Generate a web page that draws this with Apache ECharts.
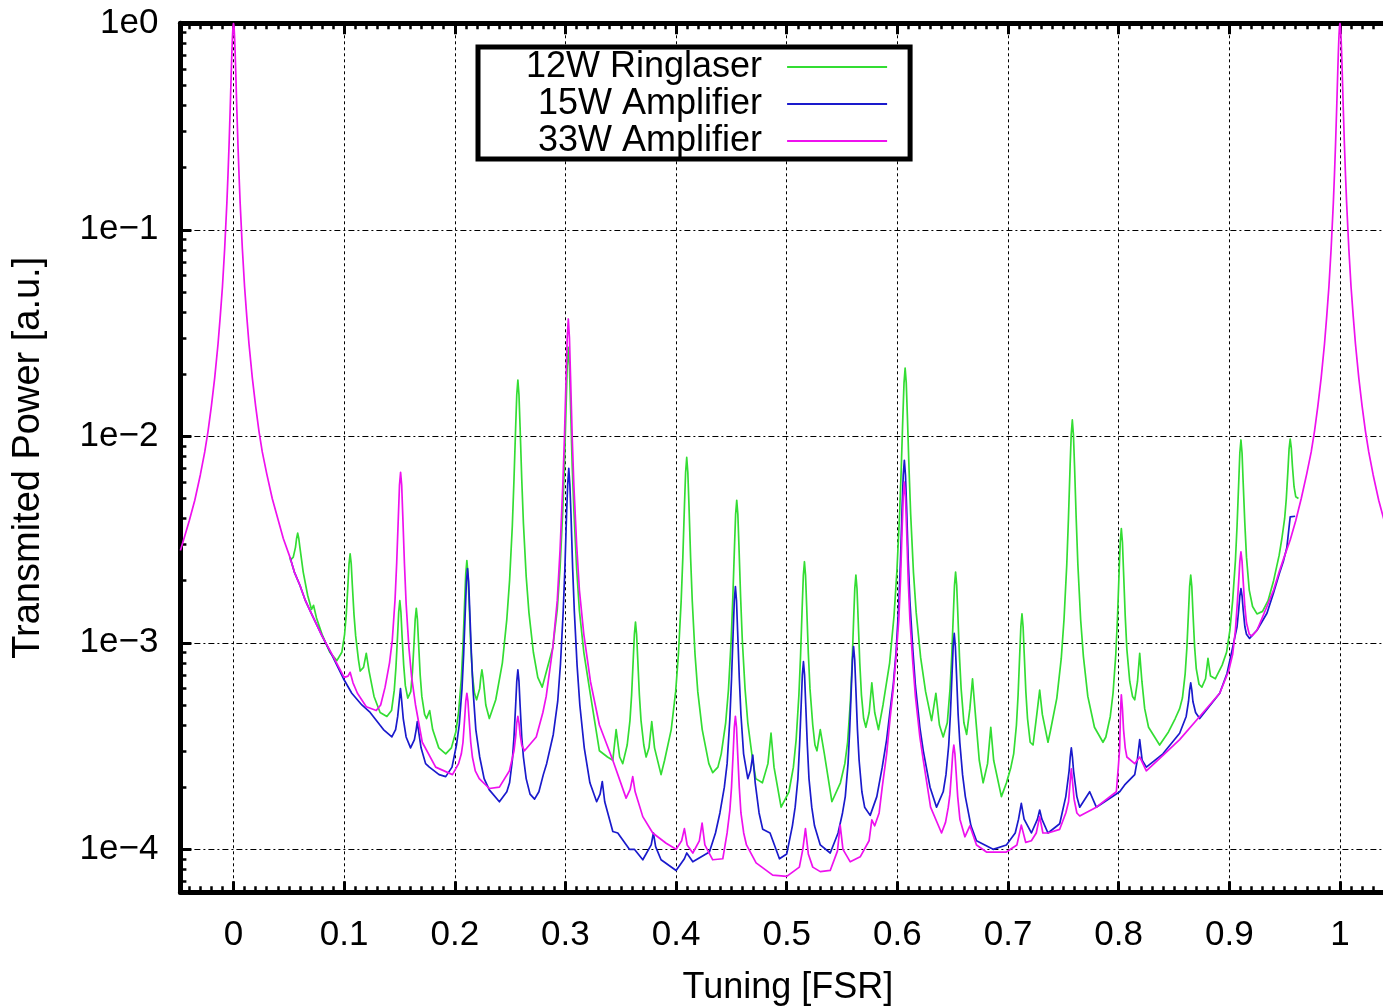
<!DOCTYPE html>
<html>
<head>
<meta charset="utf-8">
<script src="https://cdn.jsdelivr.net/npm/echarts@6/dist/echarts.min.js"></script>
<style>
html,body{margin:0;padding:0;background:#fff;}
#chart{width:1383px;height:1006px;}
</style>
</head>
<body>
<div id="chart"></div>
<script>
// ---------- data ----------
const seriesNames = ['12W Ringlaser', '15W Amplifier', '33W Amplifier'];
const seriesColors = ['#33dd33', '#1a1acc', '#ee11ee'];
const xAxisTitle = 'Tuning [FSR]';
const yAxisTitle = 'Transmited Power [a.u.]';
const xRange = [-0.048, 1.05];
const yRange = [6.2e-5, 1];

// [tuning (FSR), transmitted power (a.u.)]
const ringlaser12W = [
[0.051,2.5e-3],[0.054,2.6e-3],[0.056,2.9e-3],[0.057,3.2e-3],[0.058,3.4e-3],[0.059,3.2e-3],[0.06,2.9e-3],[0.063,2.2e-3],[0.067,1.7e-3],
[0.0705,1.45e-3],[0.0723,1.52e-3],[0.075,1.32e-3],[0.08,1.1e-3],[0.087,9.0e-4],[0.0934,8.2e-4],
[0.0979,9.0e-4],[0.1004,1.1e-3],[0.1019,1.37e-3],[0.1034,1.9e-3],[0.1044,2.41e-3],[0.1054,2.7e-3],[0.1064,2.41e-3],[0.1074,1.9e-3],[0.1089,1.37e-3],[0.1104,1.08e-3],[0.1129,8.3e-4],[0.1145,7.3e-4],
[0.1175,7.6e-4],[0.12,8.9e-4],[0.1225,7.3e-4],[0.127,5.5e-4],[0.1325,4.6e-4],[0.1386,4.4e-4],
[0.1428,4.7e-4],[0.1453,5.9e-4],[0.1468,7.6e-4],[0.1483,1.09e-3],[0.1493,1.41e-3],[0.1503,1.6e-3],[0.1513,1.41e-3],[0.1523,1.09e-3],[0.1538,7.8e-4],[0.1553,6.2e-4],[0.1575,5.4e-4],
[0.1602,5.8e-4],[0.1617,7.2e-4],[0.1632,1.01e-3],[0.1642,1.3e-3],[0.1652,1.47e-3],[0.1662,1.3e-3],[0.1672,1.01e-3],[0.1687,7.0e-4],[0.1702,5.5e-4],[0.1727,4.5e-4],[0.1745,4.3e-4],[0.1773,4.7e-4],[0.18,3.8e-4],[0.1855,3.1e-4],[0.1918,2.9e-4],
[0.1969,3.1e-4],[0.2009,3.7e-4],[0.2034,4.6e-4],[0.2059,6.7e-4],[0.2074,9.7e-4],[0.2089,1.58e-3],[0.2099,2.16e-3],[0.2109,2.5e-3],[0.2119,2.16e-3],[0.2129,1.58e-3],[0.2144,9.8e-4],[0.2159,7.0e-4],[0.2178,5.7e-4],[0.2197,5.3e-4],[0.2225,6.0e-4],[0.2235,6.8e-4],[0.2245,7.4e-4],[0.2255,6.8e-4],[0.228,5.0e-4],[0.2312,4.3e-4],
[0.237,5.3e-4],[0.243,8.0e-4],[0.247,1.3e-3],[0.2495,2.0e-3],[0.252,3.7e-3],[0.2535,6.2e-3],[0.255,1.11e-2],[0.256,1.59e-2],[0.257,1.87e-2],[0.258,1.59e-2],[0.259,1.11e-2],[0.2605,6.2e-3],[0.262,3.8e-3],[0.2645,2.1e-3],[0.267,1.4e-3],[0.271,9.0e-4],[0.275,6.8e-4],[0.279,6.1e-4],
[0.2826,7.2e-4],[0.2886,9.5e-4],[0.2926,1.45e-3],[0.2951,2.3e-3],[0.2976,4.4e-3],[0.2991,7.2e-3],[0.3006,1.42e-2],[0.3016,2.2e-2],[0.3026,2.7e-2],[0.3036,2.2e-2],[0.3046,1.42e-2],[0.3061,7.2e-3],[0.3076,4.4e-3],[0.3101,2.3e-3],[0.3126,1.43e-3],[0.3166,9.0e-4],[0.3226,5.6e-4],[0.3307,3.0e-4],
[0.338,2.8e-4],[0.3428,2.7e-4],[0.3458,3.8e-4],[0.349,2.8e-4],[0.3518,2.6e-4],
[0.3558,3.2e-4],[0.3583,4.2e-4],[0.3598,5.6e-4],[0.3613,8.4e-4],[0.3623,1.1e-3],[0.3633,1.26e-3],[0.3643,1.1e-3],[0.3653,8.4e-4],[0.3668,5.6e-4],[0.3683,4.2e-4],[0.3708,3.2e-4],[0.3729,2.8e-4],[0.3755,3.1e-4],[0.378,4.15e-4],[0.3805,3.1e-4],[0.3864,2.3e-4],
[0.3896,2.7e-4],[0.3956,3.8e-4],[0.3996,5.8e-4],[0.4021,8.8e-4],[0.4046,1.6e-3],[0.4061,2.6e-3],[0.4076,4.7e-3],[0.4086,6.7e-3],[0.4096,7.9e-3],[0.4106,6.7e-3],[0.4116,4.7e-3],[0.4131,2.6e-3],[0.4146,1.6e-3],[0.4171,8.8e-4],[0.4196,5.8e-4],[0.4236,3.8e-4],[0.4296,2.6e-4],[0.4331,2.35e-4],
[0.4378,2.5e-4],[0.4408,2.9e-4],[0.4448,4.1e-4],[0.4473,5.9e-4],[0.4498,1.04e-3],[0.4513,1.67e-3],[0.4528,2.95e-3],[0.4538,4.2e-3],[0.4548,4.9e-3],[0.4558,4.2e-3],[0.4568,2.95e-3],[0.4583,1.67e-3],[0.4598,1.04e-3],[0.4623,6.0e-4],[0.4648,4.1e-4],[0.4688,2.8e-4],[0.472,2.2e-4],[0.478,2.1e-4],[0.483,2.6e-4],[0.4858,3.65e-4],[0.4885,2.5e-4],[0.4949,1.6e-4],
[0.502,1.9e-4],[0.506,2.5e-4],[0.5085,3.4e-4],[0.511,5.6e-4],[0.5125,8.7e-4],[0.514,1.51e-3],[0.515,2.12e-3],[0.516,2.47e-3],[0.517,2.12e-3],[0.518,1.51e-3],[0.5195,8.9e-4],[0.521,6.0e-4],[0.5235,4.0e-4],[0.5255,3.2e-4],[0.5273,3.0e-4],[0.5303,3.8e-4],[0.534,2.9e-4],[0.5408,1.7e-4],
[0.5485,2.1e-4],[0.5525,2.6e-4],[0.555,3.3e-4],[0.5575,5.2e-4],[0.559,7.8e-4],[0.5605,1.32e-3],[0.5615,1.83e-3],[0.5625,2.13e-3],[0.5635,1.83e-3],[0.5645,1.32e-3],[0.566,8.0e-4],[0.5675,5.6e-4],[0.5695,4.3e-4],[0.5715,3.9e-4],[0.5745,4.6e-4],[0.5769,6.4e-4],[0.5795,4.6e-4],[0.5829,3.8e-4],
[0.587,5.0e-4],[0.593,8.0e-4],[0.597,1.36e-3],[0.5995,2.2e-3],[0.602,4.2e-3],[0.6035,7.0e-3],[0.605,1.27e-2],[0.606,1.82e-2],[0.607,2.14e-2],[0.608,1.82e-2],[0.609,1.27e-2],[0.6105,7.0e-3],[0.612,4.2e-3],[0.6145,2.2e-3],[0.617,1.4e-3],[0.621,8.5e-4],[0.6255,5.8e-4],[0.6309,4.2e-4],[0.6348,5.7e-4],[0.638,4.0e-4],[0.6414,3.5e-4],
[0.6451,4.1e-4],[0.6476,6.0e-4],[0.6491,8.6e-4],[0.6506,1.39e-3],[0.6516,1.9e-3],[0.6526,2.2e-3],[0.6536,1.9e-3],[0.6546,1.39e-3],[0.6561,8.6e-4],[0.6576,6.0e-4],[0.6601,4.1e-4],[0.6626,3.6e-4],[0.6655,4.8e-4],[0.6679,6.7e-4],[0.6705,4.5e-4],[0.674,2.7e-4],[0.6775,2.1e-4],[0.6815,2.6e-4],[0.6844,3.9e-4],[0.687,2.7e-4],[0.694,1.8e-4],
[0.6986,2.1e-4],[0.7026,2.5e-4],[0.7051,2.9e-4],[0.7076,4.0e-4],[0.7091,5.6e-4],[0.7106,8.9e-4],[0.7116,1.2e-3],[0.7126,1.38e-3],[0.7136,1.2e-3],[0.7146,8.9e-4],[0.7161,5.8e-4],[0.7176,4.3e-4],[0.72,3.3e-4],[0.7226,3.2e-4],[0.726,4.5e-4],[0.7286,5.9e-4],[0.731,4.5e-4],[0.7361,3.3e-4],
[0.7381,3.7e-4],[0.7441,5.4e-4],[0.7481,8.4e-4],[0.7506,1.3e-3],[0.7531,2.4e-3],[0.7546,4.0e-3],[0.7561,7.2e-3],[0.7571,1.02e-2],[0.7581,1.2e-2],[0.7591,1.02e-2],[0.7601,7.2e-3],[0.7616,4.0e-3],[0.7631,2.4e-3],[0.7656,1.3e-3],[0.7681,8.6e-4],[0.7721,5.5e-4],[0.7781,3.9e-4],[0.7858,3.3e-4],
[0.7884,3.5e-4],[0.7924,4.4e-4],[0.7949,5.7e-4],[0.7974,8.8e-4],[0.7989,1.32e-3],[0.8004,2.21e-3],[0.8014,3.07e-3],[0.8024,3.57e-3],[0.8034,3.07e-3],[0.8044,2.21e-3],[0.8059,1.35e-3],[0.8074,9.3e-4],[0.81,6.5e-4],[0.8125,5.5e-4],[0.8145,5.3e-4],[0.817,6.5e-4],[0.819,8.9e-4],[0.821,6.5e-4],[0.8235,4.8e-4],[0.827,3.9e-4],[0.837,3.2e-4],
[0.845,3.7e-4],[0.8511,4.3e-4],[0.8551,4.8e-4],[0.8576,5.4e-4],[0.8601,7.1e-4],[0.8616,9.4e-4],[0.8631,1.41e-3],[0.8641,1.87e-3],[0.8651,2.13e-3],[0.8661,1.87e-3],[0.8671,1.41e-3],[0.8686,9.6e-4],[0.8701,7.5e-4],[0.8726,6.3e-4],[0.8752,6.1e-4],[0.8785,6.7e-4],[0.8807,8.4e-4],[0.883,6.9e-4],[0.8874,6.7e-4],[0.8935,7.8e-4],
[0.8975,9.0e-4],[0.9005,1.15e-3],[0.903,1.6e-3],[0.9055,2.5e-3],[0.907,3.7e-3],[0.9085,6.0e-3],[0.9095,8.3e-3],[0.9105,9.6e-3],[0.9115,8.3e-3],[0.9125,6.0e-3],[0.914,3.8e-3],[0.9155,2.6e-3],[0.918,1.8e-3],[0.921,1.5e-3],[0.925,1.38e-3],[0.93,1.42e-3],[0.935,1.6e-3],[0.94,2.0e-3],
[0.945,2.65e-3],[0.9475,3.2e-3],[0.95,4.0e-3],[0.9515,5.0e-3],[0.953,6.9e-3],[0.954,8.7e-3],[0.955,9.7e-3],[0.956,8.8e-3],[0.957,7.2e-3],[0.9585,5.7e-3],[0.96,5.1e-3],[0.9625,5.0e-3]
];

const amplifier15W = [
[0.051,2.6e-3],[0.055,2.2e-3],[0.06,1.9e-3],[0.065,1.6e-3],[0.07,1.4e-3],[0.08,1.08e-3],[0.09,8.5e-4],[0.0994,6.7e-4],[0.1069,5.7e-4],
[0.116,5.0e-4],[0.1235,4.6e-4],[0.1355,3.8e-4],[0.1431,3.5e-4],[0.1465,3.8e-4],[0.1484,4.4e-4],[0.1499,5.3e-4],[0.1509,6.0e-4],[0.1519,5.3e-4],[0.1534,4.3e-4],[0.156,3.5e-4],[0.16,3.1e-4],[0.1635,3.4e-4],[0.1651,3.8e-4],[0.1661,4.15e-4],[0.1671,3.8e-4],[0.1695,3.1e-4],[0.1736,2.6e-4],[0.177,2.5e-4],[0.1858,2.3e-4],[0.1918,2.25e-4],
[0.1975,2.5e-4],[0.2015,3.2e-4],[0.204,4.0e-4],[0.2065,6.0e-4],[0.208,8.8e-4],[0.2095,1.44e-3],[0.2105,1.98e-3],[0.2115,2.29e-3],[0.2125,1.98e-3],[0.2135,1.44e-3],[0.215,8.8e-4],[0.2165,5.9e-4],[0.219,3.8e-4],[0.2225,2.8e-4],[0.2265,2.2e-4],[0.2312,1.94e-4],[0.2403,1.7e-4],
[0.247,1.9e-4],[0.2495,2.1e-4],[0.252,2.7e-4],[0.2535,3.5e-4],[0.255,5.0e-4],[0.256,6.5e-4],[0.257,7.4e-4],[0.258,6.5e-4],[0.259,5.0e-4],[0.2605,3.5e-4],[0.262,2.8e-4],[0.2645,2.2e-4],[0.268,1.85e-4],[0.2721,1.75e-4],[0.276,1.9e-4],[0.28,2.3e-4],
[0.283,2.6e-4],[0.289,3.6e-4],[0.293,5.2e-4],[0.2955,7.9e-4],[0.298,1.43e-3],[0.2995,2.3e-3],[0.301,4.2e-3],[0.302,5.8e-3],[0.303,7.0e-3],[0.304,5.8e-3],[0.305,4.2e-3],[0.3065,2.3e-3],[0.308,1.43e-3],[0.3105,7.8e-4],[0.313,5.0e-4],[0.317,3.1e-4],[0.3221,2.1e-4],[0.3282,1.7e-4],
[0.3313,1.85e-4],[0.3333,2.13e-4],[0.3355,1.7e-4],[0.3428,1.22e-4],[0.3473,1.2e-4],[0.3578,1.0e-4],[0.3623,1.0e-4],[0.3699,8.9e-5],[0.3775,1.05e-4],[0.3795,1.2e-4],[0.3815,1.03e-4],[0.3864,8.9e-5],[0.4,7.9e-5],[0.4075,9.0e-5],[0.4096,9.6e-5],[0.4151,8.7e-5],[0.4301,9.7e-5],
[0.4356,1.2e-4],[0.4396,1.5e-4],[0.4436,2.0e-4],[0.4461,2.6e-4],[0.4486,4.3e-4],[0.4501,6.7e-4],[0.4516,1.14e-3],[0.4526,1.6e-3],[0.4536,1.87e-3],[0.4546,1.6e-3],[0.4556,1.14e-3],[0.4571,6.8e-4],[0.4586,4.5e-4],[0.461,2.9e-4],[0.4648,2.2e-4],[0.4672,2.4e-4],[0.4693,2.86e-4],[0.4715,2.1e-4],[0.475,1.5e-4],[0.4783,1.25e-4],[0.4849,1.2e-4],[0.4934,9.0e-5],
[0.5,9.5e-5],[0.5051,1.3e-4],[0.5076,1.6e-4],[0.5101,2.2e-4],[0.5116,3.2e-4],[0.5131,5.1e-4],[0.5141,7.0e-4],[0.5151,8.1e-4],[0.5161,7.0e-4],[0.5171,5.1e-4],[0.5186,3.2e-4],[0.5201,2.2e-4],[0.5226,1.6e-4],[0.5251,1.3e-4],[0.5303,1.05e-4],[0.5393,9.6e-5],
[0.5464,1.2e-4],[0.5504,1.5e-4],[0.5529,1.8e-4],[0.5554,2.6e-4],[0.5569,3.8e-4],[0.5584,6.1e-4],[0.5594,8.3e-4],[0.5604,9.6e-4],[0.5614,8.3e-4],[0.5624,6.1e-4],[0.5639,3.8e-4],[0.5654,2.7e-4],[0.5679,1.9e-4],[0.5704,1.6e-4],[0.5754,1.46e-4],[0.5814,1.8e-4],
[0.5863,2.5e-4],[0.5903,3.4e-4],[0.5934,4.7e-4],[0.5963,6.3e-4],[0.5988,9.0e-4],[0.6013,1.55e-3],[0.6028,2.5e-3],[0.6043,4.6e-3],[0.6053,6.5e-3],[0.6063,7.65e-3],[0.6073,6.5e-3],[0.6083,4.6e-3],[0.6098,2.5e-3],[0.6113,1.6e-3],[0.6138,9.5e-4],[0.6163,6.2e-4],[0.6203,3.9e-4],[0.6234,3.0e-4],[0.6295,2.0e-4],[0.6354,1.6e-4],
[0.6414,1.9e-4],[0.6439,2.3e-4],[0.6464,3.2e-4],[0.6479,4.5e-4],[0.6494,7.1e-4],[0.6504,9.6e-4],[0.6514,1.11e-3],[0.6524,9.6e-4],[0.6534,7.1e-4],[0.6549,4.5e-4],[0.6564,3.3e-4],[0.6589,2.3e-4],[0.6614,1.8e-4],[0.6665,1.3e-4],[0.6715,1.1e-4],
[0.6865,1.0e-4],[0.6985,1.05e-4],[0.7065,1.2e-4],[0.7095,1.4e-4],[0.7112,1.58e-4],[0.712,1.67e-4],[0.7128,1.58e-4],[0.7145,1.4e-4],[0.7211,1.2e-4],[0.7266,1.4e-4],[0.7286,1.55e-4],[0.7306,1.4e-4],[0.7361,1.2e-4],[0.7467,1.33e-4],[0.7522,1.8e-4],[0.7552,2.4e-4],[0.7562,2.8e-4],[0.7572,3.1e-4],[0.7582,2.8e-4],[0.7592,2.4e-4],[0.7622,1.8e-4],[0.7648,1.6e-4],[0.7738,1.9e-4],[0.7798,1.6e-4],[0.8009,1.9e-4],
[0.8054,2.05e-4],[0.8145,2.3e-4],[0.8168,2.7e-4],[0.819,3.4e-4],[0.8212,2.7e-4],[0.825,2.5e-4],[0.84,2.9e-4],[0.8551,3.65e-4],[0.861,4.4e-4],[0.8631,5.2e-4],[0.8641,5.9e-4],[0.8651,6.4e-4],[0.8661,5.9e-4],[0.8671,5.2e-4],[0.8695,4.6e-4],[0.8732,4.3e-4],[0.8913,5.7e-4],[0.8979,7.1e-4],
[0.9039,1.0e-3],[0.907,1.2e-3],[0.9085,1.45e-3],[0.9095,1.69e-3],[0.9105,1.83e-3],[0.9115,1.69e-3],[0.9125,1.45e-3],[0.914,1.2e-3],[0.9155,1.1e-3],[0.9183,1.05e-3],[0.925,1.15e-3],[0.934,1.39e-3],[0.94,1.75e-3],[0.945,2.15e-3],[0.949,2.5e-3],[0.952,2.9e-3],[0.955,4.07e-3],[0.9595,4.1e-3]
];

const amplifier33W = [
[-0.048,2.8e-3],[-0.044,3.3e-3],[-0.04,3.9e-3],[-0.035,4.9e-3],[-0.03,6.5e-3],[-0.026,8.4e-3],[-0.023,1.06e-2],[-0.02,1.4e-2],[-0.017,1.92e-2],[-0.014,2.8e-2],[-0.012,3.8e-2],[-0.01,5.3e-2],[-0.008,8.1e-2],[-0.006,0.135],[-0.005,0.184],[-0.004,0.26],[-0.003,0.385],[-0.002,0.585],[-0.0015,0.714],[-0.001,0.849],[-0.0005,0.957],[0,1.0],
[0.0005,0.957],[0.001,0.849],[0.0015,0.714],[0.002,0.585],[0.003,0.385],[0.004,0.26],[0.005,0.184],[0.006,0.135],[0.008,8.1e-2],[0.01,5.3e-2],[0.012,3.8e-2],[0.014,2.8e-2],[0.017,1.92e-2],[0.02,1.4e-2],[0.023,1.06e-2],[0.026,8.4e-3],[0.03,6.6e-3],[0.035,5.0e-3],[0.04,4.0e-3],[0.045,3.2e-3],[0.051,2.6e-3],
[0.055,2.2e-3],[0.06,1.9e-3],[0.065,1.6e-3],[0.07,1.4e-3],[0.08,1.08e-3],[0.09,8.6e-4],[0.1,6.8e-4],[0.1035,6.9e-4],[0.1054,7.2e-4],[0.108,6.4e-4],[0.112,5.7e-4],[0.12,4.9e-4],[0.129,4.7e-4],
[0.133,5.0e-4],[0.137,6.1e-4],[0.141,8.0e-4],[0.1435,1.03e-3],[0.146,1.62e-3],[0.1475,2.45e-3],[0.149,4.1e-3],[0.15,5.8e-3],[0.151,6.7e-3],[0.152,5.8e-3],[0.153,4.1e-3],[0.1545,2.4e-3],[0.156,1.55e-3],[0.1585,9.5e-4],[0.161,6.8e-4],[0.1645,5.0e-4],[0.1706,3.3e-4],[0.1827,2.5e-4],[0.1979,2.3e-4],
[0.2034,2.6e-4],[0.2059,2.9e-4],[0.2074,3.3e-4],[0.2089,4.3e-4],[0.2099,5.2e-4],[0.2109,5.7e-4],[0.2119,5.2e-4],[0.2129,4.3e-4],[0.2144,3.3e-4],[0.2159,2.8e-4],[0.2185,2.4e-4],[0.2221,2.2e-4],[0.2312,1.97e-4],[0.2403,2.0e-4],[0.2494,2.4e-4],
[0.2535,3.0e-4],[0.255,3.5e-4],[0.256,4.1e-4],[0.257,4.4e-4],[0.258,4.1e-4],[0.259,3.6e-4],[0.2605,3.2e-4],[0.263,3.0e-4],[0.2736,3.5e-4],[0.2796,4.6e-4],[0.2826,5.5e-4],
[0.2886,9.5e-4],[0.2926,1.6e-3],[0.2951,2.8e-3],[0.2976,5.8e-3],[0.2991,9.9e-3],[0.3006,1.95e-2],[0.3016,3.0e-2],[0.3026,3.7e-2],[0.3036,3.0e-2],[0.3046,1.95e-2],[0.3061,9.9e-3],[0.3076,5.8e-3],[0.3101,3.0e-3],[0.3126,1.8e-3],[0.3166,1.1e-3],[0.3226,6.5e-4],[0.3307,4.0e-4],[0.3428,2.7e-4],
[0.3548,1.77e-4],[0.3585,1.95e-4],[0.3608,2.25e-4],[0.363,1.9e-4],[0.3699,1.44e-4],[0.3789,1.2e-4],[0.391,1.07e-4],[0.4,1.0e-4],[0.405,1.1e-4],[0.4075,1.26e-4],[0.41,1.05e-4],[0.4151,9.6e-5],[0.421,1.1e-4],[0.4235,1.34e-4],[0.426,1.05e-4],[0.4331,8.9e-5],[0.4422,9.0e-5],
[0.4461,1.2e-4],[0.4486,1.55e-4],[0.4501,2.0e-4],[0.4516,2.95e-4],[0.4526,3.9e-4],[0.4536,4.4e-4],[0.4546,3.9e-4],[0.4556,2.95e-4],[0.4571,2.0e-4],[0.4586,1.5e-4],[0.4611,1.2e-4],[0.4636,1.05e-4],[0.4723,8.6e-5],[0.4873,7.5e-5],[0.5,7.4e-5],
[0.5114,8.2e-5],[0.5145,1.0e-4],[0.5169,1.26e-4],[0.5195,9.5e-5],[0.5235,8.2e-5],[0.5303,7.8e-5],[0.5393,7.9e-5],[0.5458,9.8e-5],[0.5483,1.31e-4],[0.5508,1.0e-4],[0.5574,8.7e-5],[0.5664,9.2e-5],[0.5744,1.1e-4],[0.5769,1.39e-4],[0.5795,1.3e-4],[0.5835,1.5e-4],
[0.5863,2.0e-4],[0.5903,2.9e-4],[0.5934,4.3e-4],[0.5963,6.0e-4],[0.5988,8.5e-4],[0.6013,1.3e-3],[0.6028,2.0e-3],[0.6043,3.6e-3],[0.6053,5.1e-3],[0.6063,6.0e-3],[0.6073,5.1e-3],[0.6083,3.6e-3],[0.6098,2.0e-3],[0.6113,1.3e-3],[0.6138,8.2e-4],[0.6163,5.5e-4],[0.6203,3.5e-4],[0.6234,2.7e-4],[0.63,1.6e-4],[0.6399,1.2e-4],
[0.6435,1.35e-4],[0.646,1.6e-4],[0.6475,1.85e-4],[0.649,2.4e-4],[0.65,2.9e-4],[0.651,3.2e-4],[0.652,2.9e-4],[0.653,2.4e-4],[0.6545,1.8e-4],[0.6565,1.4e-4],[0.661,1.15e-4],[0.6655,1.3e-4],[0.6715,1.05e-4],[0.6805,9.7e-5],[0.6985,9.7e-5],
[0.708,1.05e-4],[0.712,1.31e-4],[0.716,1.08e-4],[0.7211,1.1e-4],[0.7255,1.2e-4],[0.7286,1.44e-4],[0.7315,1.2e-4],[0.7361,1.2e-4],[0.7467,1.25e-4],[0.7522,1.5e-4],[0.7547,1.7e-4],[0.7562,2.15e-4],[0.7572,2.45e-4],[0.7582,2.15e-4],[0.7597,1.75e-4],[0.7622,1.5e-4],[0.7648,1.45e-4],[0.7798,1.6e-4],
[0.7979,1.9e-4],[0.7999,2.6e-4],[0.8009,3.1e-4],[0.8014,4.1e-4],[0.8019,5.0e-4],[0.8024,5.6e-4],[0.8034,4.8e-4],[0.8044,3.8e-4],[0.8059,3.1e-4],[0.8074,2.8e-4],[0.8145,2.6e-4],[0.819,2.8e-4],[0.825,2.4e-4],[0.84,2.85e-4],[0.8551,3.4e-4],[0.8732,4.4e-4],[0.8913,5.7e-4],
[0.8994,7.3e-4],[0.903,8.8e-4],[0.9055,1.15e-3],[0.907,1.5e-3],[0.9085,2.0e-3],[0.9095,2.48e-3],[0.9105,2.76e-3],[0.9115,2.48e-3],[0.9125,2.0e-3],[0.914,1.5e-3],[0.9155,1.25e-3],[0.918,1.1e-3],[0.9204,1.08e-3],[0.925,1.15e-3],[0.934,1.5e-3],[0.94,1.8e-3],[0.945,2.2e-3],[0.949,2.55e-3],
[0.955,3.15e-3],[0.96,3.9e-3],[0.965,5.0e-3],[0.97,6.6e-3],[0.974,8.4e-3],[0.977,1.06e-2],[0.98,1.4e-2],[0.983,1.92e-2],[0.986,2.8e-2],[0.988,3.8e-2],[0.99,5.3e-2],[0.992,8.1e-2],[0.994,0.135],[0.995,0.184],[0.996,0.26],[0.997,0.385],[0.998,0.585],[0.9985,0.714],[0.999,0.849],[0.9995,0.957],[1.0,1.0],
[1.0005,0.957],[1.001,0.849],[1.0015,0.714],[1.002,0.585],[1.003,0.385],[1.004,0.26],[1.005,0.184],[1.006,0.135],[1.008,8.1e-2],[1.01,5.3e-2],[1.012,3.8e-2],[1.014,2.8e-2],[1.017,1.92e-2],[1.02,1.4e-2],[1.023,1.06e-2],[1.026,8.4e-3],[1.03,6.5e-3],[1.035,4.9e-3],[1.04,3.9e-3],[1.045,3.2e-3],[1.05,2.7e-3]
];

// log-scale minor tick positions (2..9 per decade)
const yMinorTicks = [7e-5,8e-5,9e-5,
  2e-4,3e-4,4e-4,5e-4,6e-4,7e-4,8e-4,9e-4,
  2e-3,3e-3,4e-3,5e-3,6e-3,7e-3,8e-3,9e-3,
  2e-2,3e-2,4e-2,5e-2,6e-2,7e-2,8e-2,9e-2,
  0.2,0.3,0.4,0.5,0.6,0.7,0.8,0.9];
// x minor ticks every 0.01 (not on the 0.1 majors)
const xMinorTicks = [];
for (let i = -4; i <= 104; i++) { if (i % 10 !== 0) xMinorTicks.push(i / 100); }

// ---------- chart ----------
const FONT = 'Liberation Sans';
const tickTxt = {fontFamily: FONT, fontSize: 35, color: '#000'};
const frame = {show: true, onZero: false, lineStyle: {color: '#000', width: 5}};
const noLine = {show: false, onZero: false};
const majorTick = {show: true, inside: true, length: 11, lineStyle: {color: '#000', width: 3}};
const minorTickStyle = {color: '#000', width: 2.5};
const gridDashV = {show: true, lineStyle: {color: '#000', width: 1, type: [3, 3]}};
const gridDashH = {show: true, lineStyle: {color: '#000', width: 1, type: [6, 3, 2, 3]}};

function yLabel(v) {
  const e = Math.round(Math.log10(v));
  return '1e' + (e < 0 ? '\u2212' + (-e) : String(e));
}
function xLabel(v) { return String(+v.toFixed(2)); }

const xBase = {type: 'value', min: xRange[0], max: xRange[1], splitNumber: 11};
const yBase = {type: 'log', logBase: 10, min: yRange[0], max: yRange[1]};

const option = {
  animation: false,
  backgroundColor: '#fff',
  grid: {left: 180.4, width: 1214.9, top: 23.3, height: 868.9, containLabel: false, outerBoundsMode: 'none'},
  legend: {
    data: seriesNames,
    orient: 'vertical',
    align: 'right',
    left: 478, top: 47,
    padding: [2, 23, 0, 48],
    itemGap: 1,
    itemWidth: 100, itemHeight: 2,
    icon: 'rect',
    borderColor: '#000', borderWidth: 5,
    backgroundColor: '#fff',
    formatter: n => n + '  ',
    textStyle: {fontFamily: FONT, fontSize: 36, color: '#000'}
  },
  xAxis: [
    Object.assign({}, xBase, {position: 'bottom', axisLine: frame, axisTick: majorTick,
      axisLabel: Object.assign({}, tickTxt, {margin: 26, showMinLabel: false, showMaxLabel: false, formatter: xLabel}),
      splitLine: gridDashV,
      name: xAxisTitle, nameLocation: 'middle', nameGap: 78,
      nameTextStyle: {fontFamily: FONT, fontSize: 36, color: '#000'}}),
    Object.assign({}, xBase, {position: 'bottom', axisLine: noLine,
      axisTick: {show: true, inside: true, length: 6, customValues: xMinorTicks, lineStyle: minorTickStyle},
      axisLabel: {show: false}, splitLine: {show: false}}),
    Object.assign({}, xBase, {position: 'top', axisLine: frame, axisTick: majorTick,
      axisLabel: {show: false}, splitLine: {show: false}}),
    Object.assign({}, xBase, {position: 'top', axisLine: noLine,
      axisTick: {show: true, inside: true, length: 6, customValues: xMinorTicks, lineStyle: minorTickStyle},
      axisLabel: {show: false}, splitLine: {show: false}})
  ],
  yAxis: [
    Object.assign({}, yBase, {position: 'left', axisLine: frame, axisTick: majorTick,
      axisLabel: Object.assign({}, tickTxt, {margin: 22, showMinLabel: false, formatter: yLabel}),
      splitLine: gridDashH,
      name: yAxisTitle, nameLocation: 'middle', nameGap: 133,
      nameTextStyle: {fontFamily: FONT, fontSize: 38, color: '#000'}}),
    Object.assign({}, yBase, {position: 'left', axisLine: noLine,
      axisTick: {show: true, inside: true, length: 6, customValues: yMinorTicks, lineStyle: minorTickStyle},
      axisLabel: {show: false}, splitLine: {show: false}}),
    Object.assign({}, yBase, {position: 'right', axisLine: frame, axisTick: majorTick,
      axisLabel: {show: false}, splitLine: {show: false}}),
    Object.assign({}, yBase, {position: 'right', axisLine: noLine,
      axisTick: {show: true, inside: true, length: 6, customValues: yMinorTicks, lineStyle: minorTickStyle},
      axisLabel: {show: false}, splitLine: {show: false}})
  ],
  series: [
    {name: seriesNames[0], type: 'line', data: ringlaser12W, color: seriesColors[0]},
    {name: seriesNames[1], type: 'line', data: amplifier15W, color: seriesColors[1]},
    {name: seriesNames[2], type: 'line', data: amplifier33W, color: seriesColors[2]}
  ].map(s => Object.assign(s, {xAxisIndex: 0, yAxisIndex: 0, symbol: 'none', showSymbol: false,
      smooth: false, clip: true, lineStyle: {width: 1.7, color: s.color, join: 'round'}, itemStyle: {color: s.color}}))
};

const chart = echarts.init(document.getElementById('chart'), null, {renderer: 'canvas'});
chart.setOption(option);
</script>
</body>
</html>
